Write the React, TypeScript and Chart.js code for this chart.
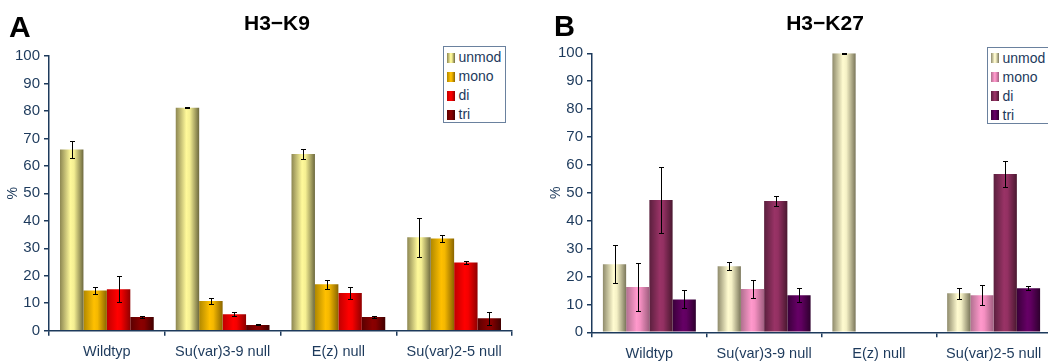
import React, { useEffect, useRef } from "react";
import { Chart, registerables } from "chart.js";
Chart.register(...registerables);

// ---------- data ----------
const categories = ["Wildtyp", "Su(var)3-9 null", "E(z) null", "Su(var)2-5 null"];
const seriesNames = ["unmod", "mono", "di", "tri"];
const yTickValues = [0, 10, 20, 30, 40, 50, 60, 70, 80, 90, 100];

const k9Unmod = [66.0, 81.2, 64.3, 34.0];
const k9Mono = [14.6, 10.8, 16.9, 33.6];
const k9Di = [15.1, 6.0, 13.7, 24.8];
const k9Tri = [5.0, 2.1, 5.0, 4.5];
const k9UnmodErr = [3.2, 0.3, 1.7, 7.1];
const k9MonoErr = [1.2, 1.0, 1.6, 1.3];
const k9DiErr = [4.7, 0.7, 2.2, 0.6];
const k9TriErr = [0.3, 0.2, 0.5, 2.3];

const k27Unmod = [24.4, 23.7, 100, 14.0];
const k27Mono = [16.2, 15.5, null, 13.3];
const k27Di = [47.4, 47.1, null, 56.7];
const k27Tri = [11.8, 13.3, null, 15.8];
const k27UnmodErr = [6.9, 1.5, 0.1, 1.9];
const k27MonoErr = [8.6, 3.2, null, 3.6];
const k27DiErr = [11.8, 1.8, null, 4.6];
const k27TriErr = [3.2, 2.5, null, 0.8];

// ---------- styles ----------
const NAVY = "#1d3a5c";
const FONT = "'Liberation Sans', Arial, Helvetica, sans-serif";

const k9Shades: [number, string][][] = [
  [[0, "#8d8752"], [0.45, "#fff99a"], [0.6, "#f5ef92"], [1, "#6c683e"]],
  [[0, "#b08800"], [0.45, "#ffc000"], [0.6, "#f5b800"], [1, "#8a6500"]],
  [[0, "#c00000"], [0.45, "#ff0000"], [0.6, "#f50000"], [1, "#900000"]],
  [[0, "#5a0000"], [0.45, "#8b0000"], [0.6, "#850000"], [1, "#400000"]],
];
const k27Shades: [number, string][][] = [
  [[0, "#8f8b6c"], [0.45, "#fffbd0"], [0.6, "#f5f1c6"], [1, "#7a765a"]],
  [[0, "#b0708f"], [0.45, "#ff99cc"], [0.6, "#f590c2"], [1, "#a05f80"]],
  [[0, "#5a1f3d"], [0.45, "#993366"], [0.6, "#933062"], [1, "#4a1830"]],
  [[0, "#3a003a"], [0.45, "#660066"], [0.6, "#600060"], [1, "#2e002e"]],
];

const shadePlugin = {
  id: "shade",
  beforeDatasetsDraw(chart: any) {
    const ctx = chart.ctx;
    chart.data.datasets.forEach((ds: any, i: number) => {
      const meta = chart.getDatasetMeta(i);
      meta.data.forEach((el: any) => {
        const x = el.x, w = el.width;
        if (!isFinite(x) || !isFinite(w)) return;
        const g = ctx.createLinearGradient(x - w / 2, 0, x + w / 2, 0);
        ds.shade.forEach(([o, c]: [number, string]) => g.addColorStop(o, c));
        el.options.backgroundColor = g;
      });
    });
  },
};

const errPlugin = {
  id: "errbars",
  afterDatasetsDraw(chart: any) {
    const ctx = chart.ctx;
    const y = chart.scales.y;
    chart.data.datasets.forEach((ds: any, i: number) => {
      const meta = chart.getDatasetMeta(i);
      meta.data.forEach((el: any, j: number) => {
        const v = ds.data[j];
        const e = ds.errors[j];
        if (v == null || e == null) return;
        const xx = Math.round(el.x) + 0.5;
        const top = Math.round(y.getPixelForValue(v + e)) + 0.5;
        const bot = Math.round(y.getPixelForValue(v - e)) + 0.5;
        ctx.save();
        ctx.strokeStyle = "#000";
        ctx.lineWidth = 1;
        ctx.beginPath();
        ctx.moveTo(xx, top);
        ctx.lineTo(xx, bot);
        ctx.moveTo(xx - 2.5, top);
        ctx.lineTo(xx + 2.5, top);
        ctx.moveTo(xx - 2.5, bot);
        ctx.lineTo(xx + 2.5, bot);
        ctx.stroke();
        ctx.restore();
      });
    });
  },
};

type PanelProps = {
  left: number;
  width: number;
  padTop: number;
  padRight: number;
  xAxisH: number;
  values: (number | null)[][];
  errors: (number | null)[][];
  shades: [number, string][][];
};

function Panel(p: PanelProps) {
  const ref = useRef<HTMLCanvasElement>(null);
  useEffect(() => {
    const canvas = ref.current!;
    const chart = new Chart(canvas, {
      type: "bar",
      data: {
        labels: categories,
        datasets: seriesNames.map((name, i) => ({
          label: name,
          data: p.values[i] as any,
          errors: p.errors[i],
          shade: p.shades[i],
          backgroundColor: () => p.shades[i][1][1],
          borderWidth: 0,
          categoryPercentage: 0.81,
          barPercentage: 1,
        })) as any,
      },
      options: {
        responsive: false,
        animation: false,
        events: [],
        layout: { padding: { top: p.padTop, right: p.padRight, left: 0, bottom: 0 } },
        plugins: { legend: { display: false }, tooltip: { enabled: false }, title: { display: false } },
        scales: {
          x: {
            type: "category",
            offset: true,
            grid: {
              display: true,
              offset: true,
              drawOnChartArea: false,
              drawTicks: true,
              tickLength: 5,
              color: NAVY,
              lineWidth: 1.5,
            },
            border: { display: true, color: NAVY, width: 1.5 },
            ticks: {
              color: NAVY,
              font: { family: FONT, size: 14.5 },
              padding: 8,
              maxRotation: 0,
              autoSkip: false,
            },
            afterFit: (s: any) => {
              s.height = p.xAxisH;
            },
          },
          y: {
            min: 0,
            max: 100,
            afterBuildTicks: (s: any) => {
              s.ticks = yTickValues.map((v) => ({ value: v }));
            },
            ticks: { color: NAVY, font: { family: FONT, size: 15 }, padding: 4 },
            grid: { drawOnChartArea: false, tickLength: 5, color: NAVY, lineWidth: 1.5 },
            border: { display: true, color: NAVY, width: 1.5 },
            title: {
              display: true,
              text: "%",
              color: NAVY,
              font: { family: FONT, size: 14 },
              padding: { top: 5, bottom: 0 },
            },
            afterFit: (s: any) => {
              s.width = 49;
            },
          },
        },
      } as any,
      plugins: [shadePlugin, errPlugin],
    });
    return () => chart.destroy();
  }, []);
  return (
    <canvas
      ref={ref}
      width={p.width}
      height={362}
      style={{ position: "absolute", left: p.left, top: 0, width: p.width, height: 362 }}
    />
  );
}

function Legend({ left, top, shades }: { left: number; top: number; shades: [number, string][][] }) {
  return (
    <div
      style={{
        position: "absolute",
        left,
        top,
        width: 63,
        height: 77,
        boxSizing: "border-box",
        border: "1.5px solid #6a819e",
        background: "#fff",
        paddingTop: 1,
      }}
    >
      {seriesNames.map((n, i) => (
        <div
          key={n}
          style={{
            display: "flex",
            alignItems: "center",
            height: 19,
            fontFamily: FONT,
            fontSize: 14,
            color: NAVY,
            lineHeight: "19px",
          }}
        >
          <span
            style={{
              display: "inline-block",
              width: 8,
              height: 10,
              marginLeft: 2.5,
              marginRight: 4,
              background: `linear-gradient(to right, ${shades[i].map(([o, c]) => `${c} ${o * 100}%`).join(", ")})`,
            }}
          />
          <span>{n}</span>
        </div>
      ))}
    </div>
  );
}

function Text({ x, baseline, size, children, center }: any) {
  const top = baseline - size * 0.8465;
  return (
    <div
      style={{
        position: "absolute",
        left: center ? x - 200 : x,
        width: center ? 400 : undefined,
        textAlign: center ? "center" : "left",
        top,
        fontFamily: FONT,
        fontWeight: "bold",
        fontSize: size,
        lineHeight: `${size}px`,
        color: "#000",
        whiteSpace: "nowrap",
      }}
    >
      {children}
    </div>
  );
}

export default function App() {
  return (
    <div
      style={{
        position: "fixed",
        left: 0,
        top: 0,
        width: 1048,
        height: 362,
        overflow: "hidden",
        background: "#fff",
      }}
    >
      <Panel
        left={0}
        width={520}
        padTop={56}
        padRight={8}
        xAxisH={31.3}
        values={[k9Unmod, k9Mono, k9Di, k9Tri]}
        errors={[k9UnmodErr, k9MonoErr, k9DiErr, k9TriErr]}
        shades={k9Shades}
      />
      <Panel
        left={543}
        width={517}
        padTop={53.3}
        padRight={9}
        xAxisH={29.7}
        values={[k27Unmod, k27Mono, k27Di, k27Tri]}
        errors={[k27UnmodErr, k27MonoErr, k27DiErr, k27TriErr]}
        shades={k27Shades}
      />
      <Legend left={443} top={46} shades={k9Shades} />
      <Legend left={987} top={46.5} shades={k27Shades} />
      <Text x={9} baseline={37} size={30}>A</Text>
      <Text x={554} baseline={37} size={29}>B</Text>
      <Text x={277} baseline={30} size={21} center>H3−K9</Text>
      <Text x={825} baseline={30} size={21} center>H3−K27</Text>
    </div>
  );
}
